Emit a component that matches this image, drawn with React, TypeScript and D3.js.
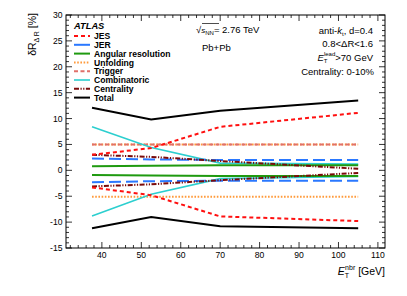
import React from "react";
import * as d3 from "d3";

// bin centres of E_T^nbr [GeV]
const etNbr = [37.5, 52.5, 70, 105];

// relative uncertainties [%], upper / lower
const jesUp = [3.0, 4.3, 8.4, 11.1];
const jesDn = [-3.3, -4.8, -8.9, -9.8];
const jerUp = [2.3, 2.1, 2.0, 2.0];
const jerDn = [-2.3, -2.1, -2.0, -2.0];
const angUp = [0.8, 0.9, 1.0, 1.0];
const angDn = [-0.9, -1.0, -1.1, -1.1];
const unfUp = [5.0, 5.0, 5.0, 5.0];
const unfDn = [-5.1, -5.1, -5.1, -5.1];
const trigUp = [5.0, 5.0, 5.0, 5.0];
const combUp = [8.4, 4.4, 1.4, 1.2];
const combDn = [-8.8, -4.6, -1.6, -1.2];
const centUp = [3.0, 2.6, 1.8, 0.3];
const centDn = [-3.1, -2.7, -1.9, -0.5];
const totUp = [12.1, 9.8, 11.5, 13.5];
const totDn = [-11.2, -9.0, -10.8, -11.2];

const yTicks = [-15, -10, -5, 0, 5, 10, 15, 20, 25, 30];
const xTicks = [40, 50, 60, 70, 80, 90, 100, 110];

type Series = {
  name: string;
  color: string;
  dash: string;
  width: number;
  up: number[];
  dn?: number[];
};

const series: Series[] = [
  { name: "Unfolding", color: "#ff9a3a", dash: "1.6,1.6", width: 2, up: unfUp, dn: unfDn },
  { name: "Trigger", color: "#e0706a", dash: "4,2.5", width: 2, up: trigUp },
  { name: "Combinatoric", color: "#2ccfcf", dash: "", width: 1.6, up: combUp, dn: combDn },
  { name: "Angular resolution", color: "#1f9a10", dash: "", width: 2, up: angUp, dn: angDn },
  { name: "JER", color: "#2a78ff", dash: "12,5", width: 2, up: jerUp, dn: jerDn },
  { name: "Centrality", color: "#7a0a0a", dash: "5,1.5,1.2,1.5,1.2,1.5", width: 2, up: centUp, dn: centDn },
  { name: "JES", color: "#ff1010", dash: "4,3", width: 2, up: jesUp, dn: jesDn },
  { name: "Total", color: "#000000", dash: "", width: 2, up: totUp, dn: totDn },
];

const legendOrder = [
  "JES",
  "JER",
  "Angular resolution",
  "Unfolding",
  "Trigger",
  "Combinatoric",
  "Centrality",
  "Total",
];

export default function App() {
  const W = 407;
  const H = 296;
  const left = 66;
  const right = 385;
  const top = 15;
  const bottom = 248;

  const x = d3.scaleLinear().domain([30.9, 111.8]).range([left, right]);
  const y = d3.scaleLinear().domain([-15, 30]).range([bottom, top]);

  const line = d3
    .line<number>()
    .x((_, i) => x(etNbr[i]))
    .y((d) => y(d));

  const yMinor = d3.range(-15, 31, 1);
  const xMinor = d3.range(32, 112, 2);

  const font = "'Liberation Sans', Arial, Helvetica, sans-serif";

  return (
    <svg
      width={W}
      height={H}
      style={{ position: "absolute", left: 0, top: 0, background: "#fff" }}
      fontFamily={font}
    >
      <rect x={0} y={0} width={W} height={H} fill="#fff" />

      {/* data */}
      <g fill="none">
        {series.map((s) =>
          [s.up, s.dn].filter(Boolean).map((vals, k) => (
            <path
              key={s.name + k}
              d={line(vals as number[]) || ""}
              stroke={s.color}
              strokeWidth={s.width}
              strokeDasharray={s.dash || undefined}
            />
          ))
        )}
      </g>

      {/* frame and ticks */}
      <rect x={left} y={top} width={right - left} height={bottom - top} fill="none" stroke="#000" strokeWidth={1} />
      <g stroke="#000" strokeWidth={0.8}>
        {yMinor.map((v) => {
          const len = v % 5 === 0 ? 6 : 3;
          return (
            <g key={"y" + v}>
              <line x1={left} x2={left + len} y1={y(v)} y2={y(v)} />
              <line x1={right} x2={right - len} y1={y(v)} y2={y(v)} />
            </g>
          );
        })}
        {xMinor.map((v) => {
          const len = v % 10 === 0 ? 6 : 3;
          return (
            <g key={"x" + v}>
              <line x1={x(v)} x2={x(v)} y1={bottom} y2={bottom - len} />
              <line x1={x(v)} x2={x(v)} y1={top} y2={top + len} />
            </g>
          );
        })}
      </g>

      {/* tick labels */}
      <g fontSize={8.6} fill="#000">
        {yTicks.map((v) => (
          <text key={"yl" + v} x={left - 3.5} y={y(v) + 3} textAnchor="end">
            {v}
          </text>
        ))}
        {xTicks.map((v) => (
          <text key={"xl" + v} x={x(v)} y={257.5} textAnchor="middle">
            {v}
          </text>
        ))}
      </g>

      {/* axis titles */}
      <text
        transform="translate(36,13) rotate(-90)"
        textAnchor="end"
        fontSize={10.5}
        fill="#000"
      >
        δR
        <tspan fontSize={7} dy={2.5}>Δ R</tspan>
        <tspan dy={-2.5}>{"  [%]"}</tspan>
      </text>
      <text x={385} y={275} textAnchor="end" fontSize={10.5} fill="#000">
        <tspan fontStyle="italic">E</tspan>
        <tspan fontSize={7} dy={2.5}>T</tspan>
        <tspan fontSize={7} dx={-4} dy={-7.5}>nbr</tspan>
        <tspan dy={5}>{" [GeV]"}</tspan>
      </text>

      {/* legend */}
      <text x={74} y={28.5} fontSize={9.3} fontWeight="bold" fontStyle="italic" fill="#000">
        ATLAS
      </text>
      {legendOrder.map((name, i) => {
        const s = series.find((d) => d.name === name)!;
        const cy = 36 + i * 8.8;
        return (
          <g key={"lg" + name}>
            <line
              x1={74}
              x2={90}
              y1={cy}
              y2={cy}
              stroke={s.color}
              strokeWidth={s.width}
              strokeDasharray={s.dash && name !== "JER" ? s.dash : undefined}
            />
            <text x={94} y={cy + 3.1} fontSize={8.6} fontWeight="bold" fill="#000">
              {name}
            </text>
          </g>
        );
      })}

      {/* annotations */}
      <g fontSize={9.5} fill="#000">
        <text x={196} y={32.5}>
          √<tspan fontStyle="italic" fontSize={8}>s</tspan>
          <tspan fontSize={6} dy={2}>NN</tspan>
          <tspan dy={-2}>= 2.76 TeV</tspan>
        </text>
        <line x1={202} x2={219} y1={23.5} y2={23.5} stroke="#000" strokeWidth={0.7} />
        <text x={202} y={50.5}>Pb+Pb</text>

        <text x={373} y={33.5} textAnchor="end">
          anti-<tspan fontStyle="italic">k</tspan>
          <tspan fontSize={6} dy={2}>t</tspan>
          <tspan dy={-2}>, d=0.4</tspan>
        </text>
        <text x={373} y={47} textAnchor="end">
          0.8&lt;ΔR&lt;1.6
        </text>
        <text x={373} y={60.5} textAnchor="end">
          <tspan fontStyle="italic">E</tspan>
          <tspan fontSize={6} dy={2.5}>T</tspan>
          <tspan fontSize={6} dx={-3.5} dy={-7}>lead</tspan>
          <tspan dy={4.5}>&gt;70 GeV</tspan>
        </text>
        <text x={374} y={74.5} textAnchor="end">
          Centrality: 0-10%
        </text>
      </g>
    </svg>
  );
}
